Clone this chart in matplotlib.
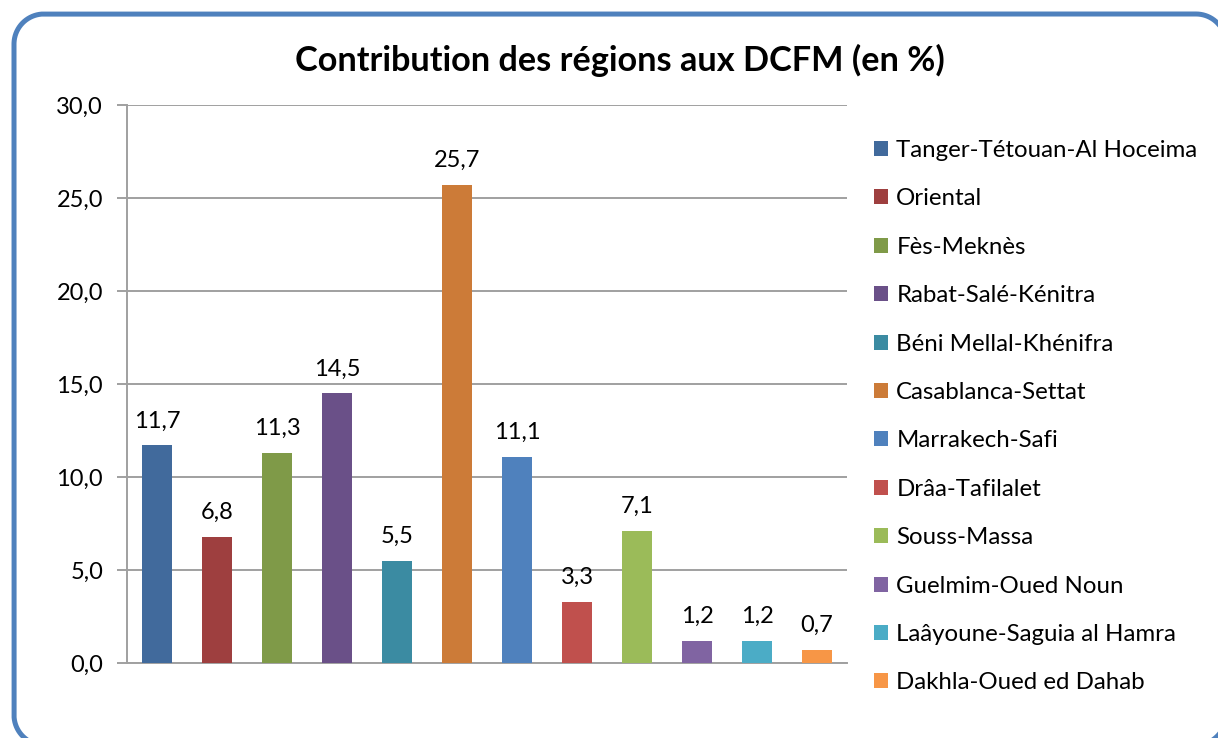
import matplotlib
matplotlib.use("Agg")
import matplotlib.pyplot as plt
from matplotlib.patches import Patch
import numpy as np

regions = ["Tanger-Tétouan-Al Hoceima", "Oriental", "Fès-Meknès", "Rabat-Salé-Kénitra",
           "Béni Mellal-Khénifra", "Casablanca-Settat", "Marrakech-Safi", "Drâa-Tafilalet",
           "Souss-Massa", "Guelmim-Oued Noun", "Laâyoune-Saguia al Hamra", "Dakhla-Oued ed Dahab"]
values = [11.7, 6.8, 11.3, 14.5, 5.5, 25.7, 11.1, 3.3, 7.1, 1.2, 1.2, 0.7]
colors = ["#416A9C", "#9E3F3F", "#7F9A48", "#6A5088", "#3B8BA2", "#CC7B38",
          "#4F81BD", "#C0504D", "#9BBB59", "#8064A2", "#4BACC6", "#F79646"]
yticks = [0, 5, 10, 15, 20, 25, 30]
title = "Contribution des régions aux DCFM (en %)"

plt.rcParams['font.family'] = ['Lato', 'DejaVu Sans']

W, H = 1218, 738
fig = plt.figure(figsize=(W / 100, H / 100), dpi=100)
fig.patch.set_facecolor("white")


def rounded_rect(x0, y0, x1, y1, r, n=40):
    pts = []
    corners = [(x1 - r, y1 - r, 0), (x0 + r, y1 - r, 90),
               (x0 + r, y0 + r, 180), (x1 - r, y0 + r, 270)]
    for cx, cy, a0 in corners:
        t = np.radians(np.linspace(a0, a0 + 90, n))
        pts.append(np.column_stack([cx + r * np.cos(t), cy + r * np.sin(t)]))
    pts = np.vstack(pts + [pts[0][:1]])
    return pts[:, 0], pts[:, 1]


# rounded frame drawn in a full-figure pixel-coordinate axes
bg = fig.add_axes([0, 0, 1, 1], zorder=-1)
bg.set_xlim(0, W)
bg.set_ylim(0, H)
bg.axis("off")
fx, fy = rounded_rect(14, -7, 1226, 724, 30)
bg.plot(fx, fy, color="#4F81BD", linewidth=3.6, solid_joinstyle="round")

ax = fig.add_axes([127 / W, 1 - 663 / H, (847 - 127) / W, (663 - 105) / H])
ax.patch.set_alpha(0)
x = np.arange(len(values))
ax.bar(x, values, width=0.51, color=colors, zorder=3)

for xi, v in zip(x, values):
    ax.annotate(f"{v:.1f}".replace(".", ","), (xi, v), xytext=(0, 10),
                textcoords="offset points", ha="center", va="bottom", fontsize=17)

ax.set_xlim(-0.5, len(values) - 0.5)
ax.set_ylim(0, 30)
ax.set_yticks(yticks)
ax.set_yticklabels([f"{t:.1f}".replace(".", ",") for t in yticks], fontsize=17)
ax.set_xticks([])
ax.yaxis.grid(True, color="#A0A0A0", linewidth=1.4, zorder=0)
ax.set_axisbelow(True)
for s in ["top", "right"]:
    ax.spines[s].set_visible(False)
for s in ["left", "bottom"]:
    ax.spines[s].set_color("#A0A0A0")
    ax.spines[s].set_linewidth(1.4)
ax.tick_params(axis="y", length=7.2, width=1.4, color="#A0A0A0", pad=10)

fig.text(620 / W, 1 - 60 / H, title, ha="center", va="center", fontsize=24.7, fontweight="bold")

handles = [Patch(facecolor=c, edgecolor="none") for c in colors]
fig.legend(handles, regions, loc="upper left", bbox_to_anchor=(874 / W, 1 - 140 / H),
           frameon=False, fontsize=17.3, handlelength=0.58, handleheight=0.58,
           handletextpad=0.35, labelspacing=1.14, borderaxespad=0, borderpad=0)

fig.savefig("out.png", dpi=100)
